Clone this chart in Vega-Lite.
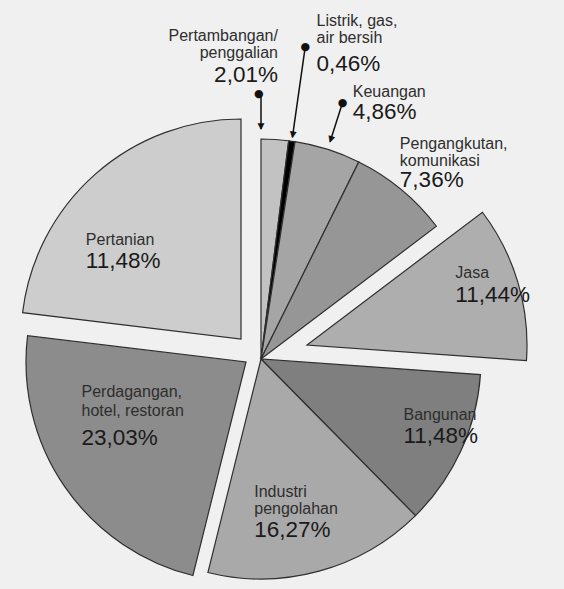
{
  "$schema": "https://vega.github.io/schema/vega-lite/v6.json",
  "width": 522,
  "height": 460,
  "autosize": "none",
  "padding": {"left": 0, "top": 129, "right": 42, "bottom": 0},
  "background": "#f0f0f0",
  "config": {"view": {"stroke": null}, "text": {"font": "Liberation Sans"}},
  "data": {
    "values": [
      {"sector": "Pertambangan", "value": 2.01, "name": "Pertambangan/\npenggalian", "pct": "2,01%"},
      {"sector": "Listrik", "value": 0.46, "name": "Listrik, gas,\nair bersih", "pct": "0,46%"},
      {"sector": "Keuangan", "value": 4.86, "name": "Keuangan", "pct": "4,86%"},
      {"sector": "Pengangkutan", "value": 7.36, "name": "Pengangkutan,\nkomunikasi", "pct": "7,36%"},
      {"sector": "Jasa", "value": 11.44, "name": "Jasa", "pct": "11,44%"},
      {"sector": "Bangunan", "value": 11.48, "name": "Bangunan", "pct": "11,48%"},
      {"sector": "Industri", "value": 16.27, "name": "Industri\npengolahan", "pct": "16,27%"},
      {"sector": "Perdagangan", "value": 23.03, "name": "Perdagangan,\nhotel, restoran", "pct": "23,03%"},
      {"sector": "Pertanian", "value": 23.09, "name": "Pertanian", "pct": "11,48%"}
    ]
  },
  "transform": [{"stack": "value", "groupby": [], "as": ["v0", "v1"]}],
  "layer": [
    {
      "transform": [{"filter": {"field": "sector", "oneOf": ["Pertambangan", "Listrik", "Keuangan", "Pengangkutan", "Bangunan", "Industri"]}}],
      "mark": {"type": "arc", "radius": 220, "stroke": "#2f2f2f", "strokeWidth": 1.2},
      "encoding": {
        "theta": {"field": "v0", "type": "quantitative", "scale": {"domain": [0, 100]}},
        "theta2": {"field": "v1"},
        "color": {"field": "sector", "type": "nominal", "legend": null,
          "scale": {"domain": ["Pertambangan", "Listrik", "Keuangan", "Pengangkutan", "Jasa", "Bangunan", "Industri", "Perdagangan", "Pertanian"],
                    "range": ["#c2c2c2", "#000000", "#a5a5a5", "#969696", "#aeaeae", "#7f7f7f", "#a9a9a9", "#8c8c8c", "#cdcdcd"]}}
      }
    },
    {
      "transform": [{"filter": {"field": "sector", "equal": "Jasa"}}],
      "mark": {"type": "arc", "radius": 220, "stroke": "#2f2f2f", "strokeWidth": 1.2, "xOffset": 46, "yOffset": -14},
      "encoding": {
        "x": {"value": {"expr": "width/2"}},
        "y": {"value": {"expr": "height/2"}},
        "theta": {"field": "v0", "type": "quantitative", "scale": {"domain": [0, 100]}},
        "theta2": {"field": "v1"},
        "color": {"field": "sector", "type": "nominal", "legend": null,
          "scale": {"domain": ["Pertambangan", "Listrik", "Keuangan", "Pengangkutan", "Jasa", "Bangunan", "Industri", "Perdagangan", "Pertanian"],
                    "range": ["#c2c2c2", "#000000", "#a5a5a5", "#969696", "#aeaeae", "#7f7f7f", "#a9a9a9", "#8c8c8c", "#cdcdcd"]}}
      }
    },
    {
      "transform": [{"filter": {"field": "sector", "equal": "Perdagangan"}}],
      "mark": {"type": "arc", "radius": 220, "stroke": "#2f2f2f", "strokeWidth": 1.2, "xOffset": -15, "yOffset": 3},
      "encoding": {
        "x": {"value": {"expr": "width/2"}},
        "y": {"value": {"expr": "height/2"}},
        "theta": {"field": "v0", "type": "quantitative", "scale": {"domain": [0, 100]}},
        "theta2": {"field": "v1"},
        "color": {"field": "sector", "type": "nominal", "legend": null,
          "scale": {"domain": ["Pertambangan", "Listrik", "Keuangan", "Pengangkutan", "Jasa", "Bangunan", "Industri", "Perdagangan", "Pertanian"],
                    "range": ["#c2c2c2", "#000000", "#a5a5a5", "#969696", "#aeaeae", "#7f7f7f", "#a9a9a9", "#8c8c8c", "#cdcdcd"]}}
      }
    },
    {
      "transform": [{"filter": {"field": "sector", "equal": "Pertanian"}}],
      "mark": {"type": "arc", "radius": 220, "stroke": "#2f2f2f", "strokeWidth": 1.2, "xOffset": -20, "yOffset": -20},
      "encoding": {
        "x": {"value": {"expr": "width/2"}},
        "y": {"value": {"expr": "height/2"}},
        "theta": {"field": "v0", "type": "quantitative", "scale": {"domain": [0, 100]}},
        "theta2": {"field": "v1"},
        "color": {"field": "sector", "type": "nominal", "legend": null,
          "scale": {"domain": ["Pertambangan", "Listrik", "Keuangan", "Pengangkutan", "Jasa", "Bangunan", "Industri", "Perdagangan", "Pertanian"],
                    "range": ["#c2c2c2", "#000000", "#a5a5a5", "#969696", "#aeaeae", "#7f7f7f", "#a9a9a9", "#8c8c8c", "#cdcdcd"]}}
      }
    },
    {
      "transform": [{"filter": {"field": "sector", "equal": "Pertambangan"}}],
      "mark": {"type": "arc", "radius": 266, "radius2": 230, "filled": false, "stroke": "#111111", "strokeWidth": 1.5},
      "encoding": {"theta": {"field": "v0", "type": "quantitative", "scale": {"domain": [0, 100]}}, "theta2": {"field": "v0"}}
    },
    {
      "transform": [{"filter": {"field": "sector", "equal": "Listrik"}}],
      "mark": {"type": "arc", "radius": 315, "radius2": 224, "thetaOffset": 0.01445, "theta2Offset": 0.01445, "filled": false, "stroke": "#111111", "strokeWidth": 1.5},
      "encoding": {"theta": {"field": "v0", "type": "quantitative", "scale": {"domain": [0, 100]}}, "theta2": {"field": "v0"}}
    },
    {
      "transform": [{"filter": {"field": "sector", "equal": "Keuangan"}}],
      "mark": {"type": "arc", "radius": 269, "radius2": 228, "thetaOffset": 0.15268, "theta2Offset": 0.15268, "filled": false, "stroke": "#111111", "strokeWidth": 1.5},
      "encoding": {"theta": {"field": "v0", "type": "quantitative", "scale": {"domain": [0, 100]}}, "theta2": {"field": "v0"}}
    },
    {
      "mark": {"type": "text", "radius": 266, "dx": -19, "align": "center", "baseline": "middle", "fontSize": 11, "fill": "#111111", "font": "DejaVu Sans"},
      "encoding": {"theta": {"field": "value", "type": "quantitative", "stack": true, "scale": {"domain": [0, 100]}}, "order": {"field": "v0", "type": "quantitative"},
        "text": {"condition": {"test": "datum.sector === 'Pertambangan'", "value": "●"}, "value": ""}}
    },
    {
      "mark": {"type": "text", "radius": 315, "align": "center", "baseline": "middle", "fontSize": 11, "fill": "#111111", "font": "DejaVu Sans"},
      "encoding": {"theta": {"field": "value", "type": "quantitative", "stack": true, "scale": {"domain": [0, 100]}}, "order": {"field": "v0", "type": "quantitative"},
        "text": {"condition": {"test": "datum.sector === 'Listrik'", "value": "●"}, "value": ""}}
    },
    {
      "mark": {"type": "text", "radius": 269, "align": "center", "baseline": "middle", "fontSize": 11, "fill": "#111111", "font": "DejaVu Sans"},
      "encoding": {"theta": {"field": "value", "type": "quantitative", "stack": true, "scale": {"domain": [0, 100]}}, "order": {"field": "v0", "type": "quantitative"},
        "text": {"condition": {"test": "datum.sector === 'Keuangan'", "value": "●"}, "value": ""}}
    },
    {
      "mark": {"type": "text", "radius": 233, "dx": -14.7, "angle": 0, "align": "center", "baseline": "middle", "fontSize": 9, "fill": "#111111", "font": "DejaVu Sans"},
      "encoding": {"theta": {"field": "value", "type": "quantitative", "stack": true, "scale": {"domain": [0, 100]}}, "order": {"field": "v0", "type": "quantitative"},
        "text": {"condition": {"test": "datum.sector === 'Pertambangan'", "value": "▼"}, "value": ""}}
    },
    {
      "mark": {"type": "text", "radius": 227, "angle": 8.06, "align": "center", "baseline": "middle", "fontSize": 9, "fill": "#111111", "font": "DejaVu Sans"},
      "encoding": {"theta": {"field": "value", "type": "quantitative", "stack": true, "scale": {"domain": [0, 100]}}, "order": {"field": "v0", "type": "quantitative"},
        "text": {"condition": {"test": "datum.sector === 'Listrik'", "value": "▼"}, "value": ""}}
    },
    {
      "mark": {"type": "text", "radius": 231, "angle": 17.64, "align": "center", "baseline": "middle", "fontSize": 9, "fill": "#111111", "font": "DejaVu Sans"},
      "encoding": {"theta": {"field": "value", "type": "quantitative", "stack": true, "scale": {"domain": [0, 100]}}, "order": {"field": "v0", "type": "quantitative"},
        "text": {"condition": {"test": "datum.sector === 'Keuangan'", "value": "▼"}, "value": ""}}
    },
    {
      "mark": {"type": "text", "radius": 300, "dx": -2, "dy": -19, "align": "right", "baseline": "alphabetic", "fontSize": 16, "lineBreak": "\n", "lineHeight": 17, "fill": "#2e2e2e"},
      "encoding": {"theta": {"field": "value", "type": "quantitative", "stack": true, "scale": {"domain": [0, 100]}}, "order": {"field": "v0", "type": "quantitative"},
        "text": {"condition": {"test": "datum.sector === 'Pertambangan'", "field": "name", "type": "nominal"}, "value": ""}}
    },
    {
      "mark": {"type": "text", "radius": 300, "dx": -2, "dy": 22, "align": "right", "baseline": "alphabetic", "fontSize": 22.5, "fill": "#1a1a1a"},
      "encoding": {"theta": {"field": "value", "type": "quantitative", "stack": true, "scale": {"domain": [0, 100]}}, "order": {"field": "v0", "type": "quantitative"},
        "text": {"condition": {"test": "datum.sector === 'Pertambangan'", "field": "pct", "type": "nominal"}, "value": ""}}
    },
    {
      "mark": {"type": "text", "radius": 310, "dx": 12, "dy": -26, "align": "left", "baseline": "alphabetic", "fontSize": 16, "lineBreak": "\n", "lineHeight": 17, "fill": "#2e2e2e"},
      "encoding": {"theta": {"field": "value", "type": "quantitative", "stack": true, "scale": {"domain": [0, 100]}}, "order": {"field": "v0", "type": "quantitative"},
        "text": {"condition": {"test": "datum.sector === 'Listrik'", "field": "name", "type": "nominal"}, "value": ""}}
    },
    {
      "mark": {"type": "text", "radius": 310, "dx": 12, "dy": 19, "align": "left", "baseline": "alphabetic", "fontSize": 22.5, "fill": "#1a1a1a"},
      "encoding": {"theta": {"field": "value", "type": "quantitative", "stack": true, "scale": {"domain": [0, 100]}}, "order": {"field": "v0", "type": "quantitative"},
        "text": {"condition": {"test": "datum.sector === 'Listrik'", "field": "pct", "type": "nominal"}, "value": ""}}
    },
    {
      "mark": {"type": "text", "radius": 260, "dx": 13, "dy": -14, "align": "left", "baseline": "alphabetic", "fontSize": 16, "lineBreak": "\n", "lineHeight": 17, "fill": "#2e2e2e"},
      "encoding": {"theta": {"field": "value", "type": "quantitative", "stack": true, "scale": {"domain": [0, 100]}}, "order": {"field": "v0", "type": "quantitative"},
        "text": {"condition": {"test": "datum.sector === 'Keuangan'", "field": "name", "type": "nominal"}, "value": ""}}
    },
    {
      "mark": {"type": "text", "radius": 260, "dx": 13, "dy": 8, "align": "left", "baseline": "alphabetic", "fontSize": 22.5, "fill": "#1a1a1a"},
      "encoding": {"theta": {"field": "value", "type": "quantitative", "stack": true, "scale": {"domain": [0, 100]}}, "order": {"field": "v0", "type": "quantitative"},
        "text": {"condition": {"test": "datum.sector === 'Keuangan'", "field": "pct", "type": "nominal"}, "value": ""}}
    },
    {
      "mark": {"type": "text", "radius": 260, "dx": -27, "dy": -10, "align": "left", "baseline": "alphabetic", "fontSize": 16, "lineBreak": "\n", "lineHeight": 17, "fill": "#2e2e2e"},
      "encoding": {"theta": {"field": "value", "type": "quantitative", "stack": true, "scale": {"domain": [0, 100]}}, "order": {"field": "v0", "type": "quantitative"},
        "text": {"condition": {"test": "datum.sector === 'Pengangkutan'", "field": "name", "type": "nominal"}, "value": ""}}
    },
    {
      "mark": {"type": "text", "radius": 260, "dx": -27, "dy": 28, "align": "left", "baseline": "alphabetic", "fontSize": 22.5, "fill": "#1a1a1a"},
      "encoding": {"theta": {"field": "value", "type": "quantitative", "stack": true, "scale": {"domain": [0, 100]}}, "order": {"field": "v0", "type": "quantitative"},
        "text": {"condition": {"test": "datum.sector === 'Pengangkutan'", "field": "pct", "type": "nominal"}, "value": ""}}
    },
    {
      "mark": {"type": "text", "radius": 210, "dx": -7, "dy": -21, "align": "left", "baseline": "alphabetic", "fontSize": 16, "lineBreak": "\n", "lineHeight": 17, "fill": "#2e2e2e"},
      "encoding": {"theta": {"field": "value", "type": "quantitative", "stack": true, "scale": {"domain": [0, 100]}}, "order": {"field": "v0", "type": "quantitative"},
        "text": {"condition": {"test": "datum.sector === 'Jasa'", "field": "name", "type": "nominal"}, "value": ""}}
    },
    {
      "mark": {"type": "text", "radius": 210, "dx": -7, "dy": 3, "align": "left", "baseline": "alphabetic", "fontSize": 22.5, "fill": "#1a1a1a"},
      "encoding": {"theta": {"field": "value", "type": "quantitative", "stack": true, "scale": {"domain": [0, 100]}}, "order": {"field": "v0", "type": "quantitative"},
        "text": {"condition": {"test": "datum.sector === 'Jasa'", "field": "pct", "type": "nominal"}, "value": ""}}
    },
    {
      "mark": {"type": "text", "radius": 180, "dx": -21, "dy": -14, "align": "left", "baseline": "alphabetic", "fontSize": 16, "lineBreak": "\n", "lineHeight": 17, "fill": "#2e2e2e"},
      "encoding": {"theta": {"field": "value", "type": "quantitative", "stack": true, "scale": {"domain": [0, 100]}}, "order": {"field": "v0", "type": "quantitative"},
        "text": {"condition": {"test": "datum.sector === 'Bangunan'", "field": "name", "type": "nominal"}, "value": ""}}
    },
    {
      "mark": {"type": "text", "radius": 180, "dx": -21, "dy": 9, "align": "left", "baseline": "alphabetic", "fontSize": 22.5, "fill": "#1a1a1a"},
      "encoding": {"theta": {"field": "value", "type": "quantitative", "stack": true, "scale": {"domain": [0, 100]}}, "order": {"field": "v0", "type": "quantitative"},
        "text": {"condition": {"test": "datum.sector === 'Bangunan'", "field": "pct", "type": "nominal"}, "value": ""}}
    },
    {
      "mark": {"type": "text", "radius": 160, "dx": -49, "dy": -16, "align": "left", "baseline": "alphabetic", "fontSize": 16, "lineBreak": "\n", "lineHeight": 17, "fill": "#2e2e2e"},
      "encoding": {"theta": {"field": "value", "type": "quantitative", "stack": true, "scale": {"domain": [0, 100]}}, "order": {"field": "v0", "type": "quantitative"},
        "text": {"condition": {"test": "datum.sector === 'Industri'", "field": "name", "type": "nominal"}, "value": ""}}
    },
    {
      "mark": {"type": "text", "radius": 160, "dx": -49, "dy": 24, "align": "left", "baseline": "alphabetic", "fontSize": 22.5, "fill": "#1a1a1a"},
      "encoding": {"theta": {"field": "value", "type": "quantitative", "stack": true, "scale": {"domain": [0, 100]}}, "order": {"field": "v0", "type": "quantitative"},
        "text": {"condition": {"test": "datum.sector === 'Industri'", "field": "pct", "type": "nominal"}, "value": ""}}
    },
    {
      "mark": {"type": "text", "radius": 150, "dx": -56, "dy": -47, "align": "left", "baseline": "alphabetic", "fontSize": 16, "lineBreak": "\n", "lineHeight": 19, "fill": "#2e2e2e"},
      "encoding": {"theta": {"field": "value", "type": "quantitative", "stack": true, "scale": {"domain": [0, 100]}}, "order": {"field": "v0", "type": "quantitative"},
        "text": {"condition": {"test": "datum.sector === 'Perdagangan'", "field": "name", "type": "nominal"}, "value": ""}}
    },
    {
      "mark": {"type": "text", "radius": 150, "dx": -56, "dy": 1, "align": "left", "baseline": "alphabetic", "fontSize": 22.5, "fill": "#1a1a1a"},
      "encoding": {"theta": {"field": "value", "type": "quantitative", "stack": true, "scale": {"domain": [0, 100]}}, "order": {"field": "v0", "type": "quantitative"},
        "text": {"condition": {"test": "datum.sector === 'Perdagangan'", "field": "pct", "type": "nominal"}, "value": ""}}
    },
    {
      "mark": {"type": "text", "radius": 160, "dx": -69, "dy": 6, "align": "left", "baseline": "alphabetic", "fontSize": 16, "lineBreak": "\n", "lineHeight": 17, "fill": "#2e2e2e"},
      "encoding": {"theta": {"field": "value", "type": "quantitative", "stack": true, "scale": {"domain": [0, 100]}}, "order": {"field": "v0", "type": "quantitative"},
        "text": {"condition": {"test": "datum.sector === 'Pertanian'", "field": "name", "type": "nominal"}, "value": ""}}
    },
    {
      "mark": {"type": "text", "radius": 160, "dx": -69, "dy": 29, "align": "left", "baseline": "alphabetic", "fontSize": 22.5, "fill": "#1a1a1a"},
      "encoding": {"theta": {"field": "value", "type": "quantitative", "stack": true, "scale": {"domain": [0, 100]}}, "order": {"field": "v0", "type": "quantitative"},
        "text": {"condition": {"test": "datum.sector === 'Pertanian'", "field": "pct", "type": "nominal"}, "value": ""}}
    }
  ]
}
